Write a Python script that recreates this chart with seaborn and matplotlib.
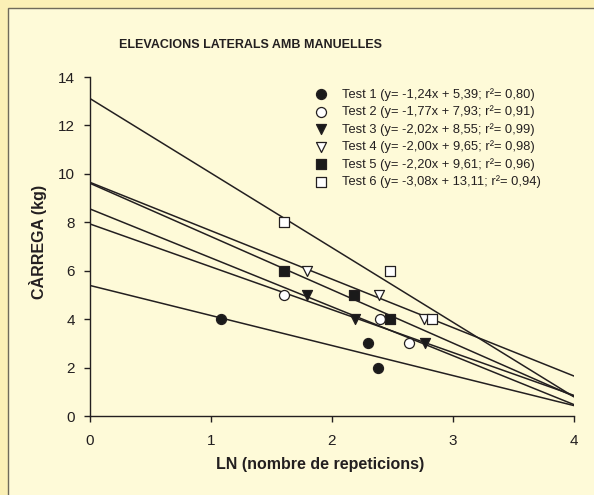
import numpy as np
import pandas as pd
import seaborn as sns
import matplotlib.pyplot as plt
from matplotlib.patches import Rectangle

# punts de cada test (LN repeticions, carrega kg)
test_names = ["Test 1", "Test 2", "Test 3", "Test 4", "Test 5", "Test 6"]
ln_reps = [
    [1.08, 2.30, 2.38],
    [1.60, 2.40, 2.64],
    [1.79, 2.19, 2.77],
    [1.79, 2.39, 2.76],
    [1.60, 2.18, 2.48],
    [1.60, 2.48, 2.83],
]
carrega = [
    [4, 3, 2],
    [5, 4, 3],
    [5, 4, 3],
    [6, 5, 4],
    [6, 5, 4],
    [8, 6, 4],
]
# rectes de regressio
slopes = [-1.24, -1.77, -2.02, -2.00, -2.20, -3.08]
intercepts = [5.39, 7.93, 8.55, 9.65, 9.61, 13.11]
r2_vals = [0.80, 0.91, 0.99, 0.98, 0.96, 0.94]
line_x = [0, 4]

markers = ["o", "o", "v", "v", "s", "s"]
fills = ["#1a1a1a", "white", "#1a1a1a", "white", "#1a1a1a", "white"]

outer_bg = "#fbf0b6"
inner_bg = "#fefad8"
ink = "#231f20"

sns.set_style("ticks")
plt.rcParams["font.family"] = ["Liberation Sans", "DejaVu Sans"]

fig = plt.figure(figsize=(5.94, 4.95), dpi=100)
fig.patch.set_facecolor(outer_bg)
fig.patches.append(Rectangle((8 / 594, -0.1), 1.2, 1 - 8 / 495 + 0.1,
                             transform=fig.transFigure, facecolor=inner_bg,
                             edgecolor="#6f6a5a", linewidth=1.0, zorder=-10))

ax = fig.add_axes([90 / 594, 79 / 495, 484 / 594, 339 / 495])
ax.set_facecolor("none")

def fmt(v):
    return f"{v:.2f}".replace(".", ",")

for i, name in enumerate(test_names):
    # recta
    df_line = pd.DataFrame({"x": line_x,
                            "y": [slopes[i] * x + intercepts[i] for x in line_x]})
    sns.lineplot(data=df_line, x="x", y="y", ax=ax, color=ink, lw=1.1, zorder=2)
    label = (f"{name} (y= {fmt(slopes[i])}x + {fmt(intercepts[i])}; "
             f"r\u00b2= {fmt(r2_vals[i])})")
    df_pts = pd.DataFrame({"x": ln_reps[i], "y": carrega[i]})
    sns.scatterplot(data=df_pts, x="x", y="y", ax=ax, marker=markers[i],
                    color=fills[i], edgecolor=ink, linewidth=0.9, s=52,
                    zorder=3, label=label)

ax.set_xlim(0, 4)
ax.set_ylim(0, 14)
ax.set_xticks([0, 1, 2, 3, 4])
ax.set_yticks([0, 2, 4, 6, 8, 10, 12, 14])
ax.tick_params(axis="both", labelsize=11, colors=ink, length=4, width=1.0)
ax.tick_params(axis="x", pad=9)
ax.tick_params(axis="y", pad=7)
for s in ["left", "bottom"]:
    ax.spines[s].set_color(ink)
    ax.spines[s].set_linewidth(1.0)
sns.despine(ax=ax)

ax.set_xlabel("LN (nombre de repeticions)", fontsize=11.5, fontweight="bold",
              color=ink)
ax.xaxis.set_label_coords((320 - 90) / 484, (416 - 457) / 339)
ax.set_ylabel("CÀRREGA (kg)", fontsize=11.5, fontweight="bold", color=ink)
ax.yaxis.set_label_coords((47 - 90) / 484, (416 - 242) / 339)
fig.text(250 / 594, 1 - 45 / 495, "ELEVACIONS LATERALS AMB MANUELLES",
         ha="center", va="center", fontsize=9, fontweight="bold", color=ink)

leg = ax.legend(loc="upper left", bbox_to_anchor=(314.5 / 594, 1 - 88 / 495),
                bbox_transform=fig.transFigure, frameon=False, fontsize=9.3,
                labelspacing=0.36, handletextpad=1.13, borderpad=0,
                handlelength=1.0, borderaxespad=0)
for t in leg.get_texts():
    t.set_color(ink)

fig.savefig("out.png", dpi=100, facecolor=fig.get_facecolor())
